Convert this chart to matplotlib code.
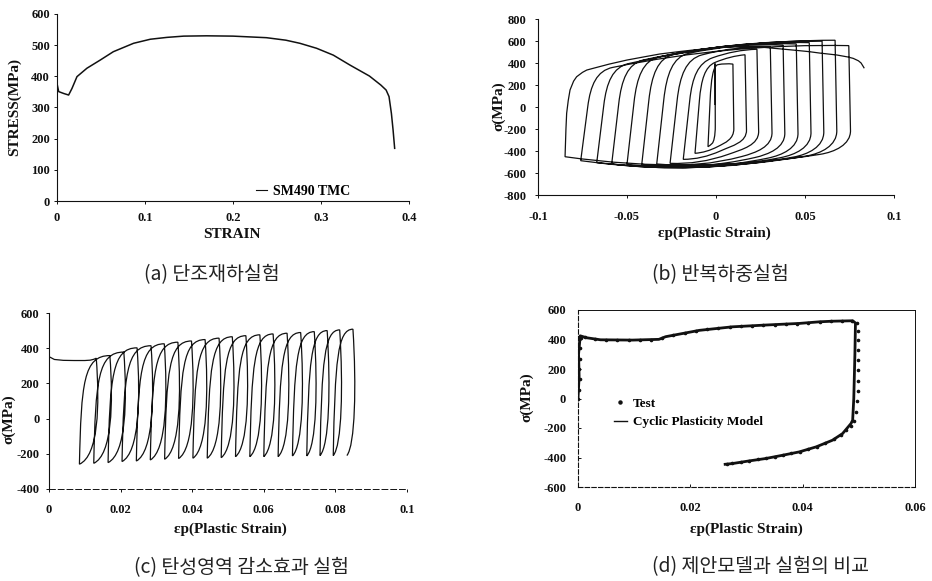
import numpy as np
import matplotlib
matplotlib.use('Agg')
import matplotlib.pyplot as plt
from matplotlib.path import Path
from matplotlib.patches import PathPatch
from matplotlib.lines import Line2D

SERIF = ['Liberation Serif', 'DejaVu Serif']
KR = ['Noto Sans CJK KR', 'DejaVu Sans']
INK = '#111111'

# ---------------- (a) monotonic test ----------------
a_strain = [0.0, 0.0, 0.0019, 0.0076, 0.0132, 0.0170, 0.0227, 0.034, 0.049, 0.064,
            0.087, 0.106, 0.125, 0.144, 0.170, 0.200, 0.238, 0.260, 0.276, 0.295,
            0.314, 0.333, 0.355, 0.368, 0.374, 0.3773, 0.380, 0.3819, 0.3837]
a_stress = [0, 377, 351, 345, 340, 361, 399, 426, 452, 479,
            506, 519, 525, 529, 530, 529, 524, 516, 506, 490,
            468, 436, 401, 372, 356, 335, 281, 228, 169]
a_xticks = [0, 0.1, 0.2, 0.3, 0.4]
a_xticklabels = ['0', '0.1', '0.2', '0.3', '0.4']
a_yticks = [0, 100, 200, 300, 400, 500, 600]
a_legend = 'SM490 TMC'

# ---------------- (b) cyclic test ----------------
b_start = (-0.0005, 18)
b_right_strain = [-0.0005, 0.0095, 0.0163, 0.0230, 0.0305, 0.0377, 0.0451, 0.0524, 0.0596, 0.0669, 0.0746]
b_right_stress = [395, 390, 475, 525, 548, 562, 573, 585, 598, 607, 558]
b_left_strain = [-0.0045, -0.0118, -0.0184, -0.0258, -0.0333, -0.0417, -0.0500, -0.0586, -0.0670, -0.0760, -0.0848]
b_left_stress = [-361, -421, -476, -512, -518, -521, -521, -518, -506, -488, -452]
b_top_corner = [385, 405, 448, 474, 488, 478, 455, 428, 395, 360]
b_bot_corner = [-330, -360, -400, -430, -450, -460, -465, -460, -455, -445, -430]
b_final_strain = [-0.0848, -0.0843, -0.0839, -0.0830, -0.0820, -0.0800, -0.0783, -0.0750, -0.0726,
                  -0.0689, -0.060, -0.050, -0.040, -0.0315, -0.020, -0.0128, 0.0, 0.006, 0.015,
                  0.025, 0.035, 0.045, 0.0524, 0.0584, 0.0678, 0.0740, 0.0771, 0.0800, 0.0815,
                  0.0828, 0.0833]
b_final_stress = [-452, -200, -57, 60, 155, 235, 275, 315, 336,
                  352, 390, 427, 457, 482, 505, 518, 538, 545, 548,
                  545, 530, 515, 503, 490, 473, 455, 442, 420, 400,
                  366, 352]
b_xticks = [-0.1, -0.05, 0, 0.05, 0.1]
b_xticklabels = ['-0.1', '-0.05', '0', '0.05', '0.1']
b_yticks = [-800, -600, -400, -200, 0, 200, 400, 600, 800]

# ---------------- (c) elastic region reduction test ----------------
c_init_strain = [0.0, 0.0, 0.0015, 0.004, 0.007, 0.010, 0.0115, 0.0125]
c_init_stress = [0, 352, 336, 331, 330, 330, 332, 337]
c_peak_strain = [0.0132, 0.0170, 0.0209, 0.0246, 0.0285, 0.0322, 0.0360, 0.0398, 0.0436, 0.0475,
                 0.0512, 0.0550, 0.0589, 0.0626, 0.0665, 0.0703, 0.0741, 0.0777, 0.0812, 0.0849]
c_peak_stress = [343, 358, 378, 402, 414, 425, 434, 441, 449, 457,
                 465, 471, 476, 481, 485, 489, 494, 500, 504, 508]
c_valley_strain = [0.0085, 0.0125, 0.0165, 0.0204, 0.0244, 0.0283, 0.0323, 0.0362, 0.0402, 0.0442,
                   0.0481, 0.0521, 0.0561, 0.0600, 0.0640, 0.0680, 0.0720, 0.0757, 0.0794, 0.0832]
c_valley_stress = [-259, -254, -250, -244, -241, -235, -231, -227, -225, -225,
                   -222, -216, -216, -216, -216, -212, -212, -210, -210, -210]
c_xticks = [0, 0.02, 0.04, 0.06, 0.08, 0.1]
c_xticklabels = ['0', '0.02', '0.04', '0.06', '0.08', '0.1']
c_yticks = [-400, -200, 0, 200, 400, 600]

# ---------------- (d) model vs test ----------------
d_model_strain = [0.0, 0.0002, 0.0001, 0.0004, 0.0015, 0.004, 0.0097, 0.0144, 0.0156, 0.0216,
                  0.0275, 0.0334, 0.0394, 0.0430, 0.0453, 0.0489, 0.0494, 0.0493, 0.0491, 0.0489,
                  0.0486, 0.0471, 0.0453, 0.0424, 0.0394, 0.0364, 0.0334, 0.0305, 0.0275, 0.0262]
d_model_stress = [0, 150, 300, 425, 412, 398, 396, 401, 419, 462,
                  486, 498, 509, 520, 524, 527, 512, 300, 0, -147,
                  -170, -238, -283, -328, -362, -385, -407, -423, -441, -446]
d_test_strain = [0.0000, 0.0001, 0.0003, 0.0002, 0.0004, 0.0003, 0.0005, 0.0012, 0.003, 0.005,
                 0.007, 0.009, 0.011, 0.013, 0.015, 0.017, 0.019, 0.021, 0.023, 0.025,
                 0.027, 0.029, 0.031, 0.033, 0.035, 0.037, 0.039, 0.041, 0.043, 0.045,
                 0.047, 0.0488, 0.0496, 0.0498, 0.0499, 0.0499, 0.0499, 0.0499, 0.0499, 0.0498,
                 0.0497, 0.0495, 0.0492, 0.0486, 0.0478, 0.0468, 0.0455, 0.0440, 0.0425, 0.0410,
                 0.0395, 0.0380, 0.0365, 0.0350, 0.0335, 0.0320, 0.0305, 0.0290, 0.0275, 0.0265]
d_test_stress = [-5, 60, 130, 200, 270, 340, 410, 418, 405, 398,
                 397, 396, 398, 400, 410, 428, 445, 458, 468, 476,
                 483, 489, 493, 497, 501, 505, 508, 513, 519, 523,
                 526, 527, 515, 460, 400, 330, 260, 190, 120, 50,
                 -20, -90, -150, -185, -215, -245, -275, -305, -328, -345,
                 -360, -372, -384, -394, -404, -413, -422, -431, -440, -445]
d_xticks = [0, 0.02, 0.04, 0.06]
d_xticklabels = ['0', '0.02', '0.04', '0.06']
d_yticks = [-600, -400, -200, 0, 200, 400, 600]
d_labels = ['Test', 'Cyclic Plasticity Model']

captions = ['(a) 단조재하실험', '(b) 반복하중실험', '(c) 탄성영역 감소효과 실험', '(d) 제안모델과 실험의 비교']

MOVETO, LINETO, CURVE3, CURVE4 = Path.MOVETO, Path.LINETO, Path.CURVE3, Path.CURVE4


def add_reload(verts, codes, x0, y0, x1, y1, yt):
    W = x1 - x0
    cw = min(0.018, 0.4 * W)
    lean = 0.22 * cw
    kx, ky = x0 + lean, yt - 0.42 * (yt - y0)
    f = 0.55 * (yt - ky) / (ky - y0)
    c1 = (kx + lean * f, ky + (ky - y0) * f)
    px, py = x0 + cw, yt
    cx, cy = 0.5 * (px + x1), 0.5 * (py + y1) + 800 * W
    s = 0.5 * cw / (cx - px)
    c2 = (px - 0.5 * cw, py - (cy - py) * s)
    verts += [(kx, ky), c1, c2, (px, py), (cx, cy), (x1, y1)]
    codes += [LINETO, CURVE4, CURVE4, CURVE4, CURVE3, CURVE3]


def add_unload(verts, codes, x0, y0, x1, y1, yb):
    W = x0 - x1
    cw = min(0.016, 0.4 * W)
    lean = 0.06 * cw
    kx, ky = x0 + lean, yb + 0.22 * (y0 - yb)
    f = 0.6 * (ky - yb) / (y0 - ky)
    c1 = (kx + lean * f, ky - (y0 - ky) * f)
    px, py = x0 - cw, yb
    cx, cy = 0.5 * (px + x1), 0.5 * (py + y1) - 1100 * W
    s = 0.5 * cw / (px - cx)
    c2 = (px + 0.5 * cw, py + (py - cy) * s)
    verts += [(kx, ky), c1, c2, (px, py), (cx, cy), (x1, y1)]
    codes += [LINETO, CURVE4, CURVE4, CURVE4, CURVE3, CURVE3]


def style_axes(ax, xt, xtl, yt, xpad, ypad, direction='out'):
    ax.set_xticks(xt)
    ax.set_xticklabels(xtl)
    ax.set_yticks(yt)
    ax.set_yticklabels([str(v) for v in yt])
    ax.tick_params(direction=direction, length=2.5, width=0.7, colors=INK)
    ax.tick_params(axis='x', pad=xpad)
    ax.tick_params(axis='y', pad=ypad)
    for lab in ax.get_xticklabels() + ax.get_yticklabels():
        lab.set_fontfamily(SERIF)
        lab.set_fontweight('bold')
        lab.set_fontsize(9)
    for sp in ax.spines.values():
        sp.set_linewidth(0.8)
        sp.set_color(INK)


fig = plt.figure(figsize=(9.32, 5.81), dpi=100)
W_, H_ = 932.0, 581.0


def axes_px(left, top, right, bottom):
    return fig.add_axes([left / W_, 1 - bottom / H_, (right - left) / W_, (bottom - top) / H_])


def ftext(x, y, s, **kw):
    fig.text(x / W_, 1 - y / H_, s, ha='center', va='center', **kw)


lab_kw = dict(fontfamily=SERIF, fontweight='bold', color=INK)

# ---- (a)
axa = axes_px(57, 14, 409, 201)
axa.plot(a_strain, a_stress, color=INK, lw=1.1, label=a_legend)
axa.set_xlim(0, 0.4)
axa.set_ylim(0, 600)
axa.spines['top'].set_visible(False)
axa.spines['right'].set_visible(False)
style_axes(axa, a_xticks, a_xticklabels, a_yticks, 5.5, 2.5)
leg = axa.legend(loc='center left', bbox_to_anchor=(0.565, 0.053), frameon=False,
                 borderaxespad=0, borderpad=0, handlelength=0.8, handletextpad=0.45,
                 prop=dict(family=SERIF, weight='bold', size=10))
for h in leg.legend_handles:
    h.set_linewidth(0.8)
ftext(14, 107, 'STRESS(MPa)', rotation=90, fontsize=11, **lab_kw)
ftext(232, 235, 'STRAIN', fontsize=11, **lab_kw)

# ---- (b)
axb = axes_px(538, 19, 894, 195)
verts = [b_start, (b_right_strain[0], b_right_stress[0])]
codes = [MOVETO, LINETO]
for k in range(len(b_right_strain)):
    add_unload(verts, codes, b_right_strain[k], b_right_stress[k],
               b_left_strain[k], b_left_stress[k], b_bot_corner[k])
    if k + 1 < len(b_right_strain):
        add_reload(verts, codes, b_left_strain[k], b_left_stress[k],
                   b_right_strain[k + 1], b_right_stress[k + 1], b_top_corner[k])
for x, y in zip(b_final_strain[1:], b_final_stress[1:]):
    verts.append((x, y))
    codes.append(LINETO)
axb.add_patch(PathPatch(Path(verts, codes), fill=False, edgecolor=INK, lw=0.9))
axb.set_xlim(-0.1, 0.1)
axb.set_ylim(-800, 800)
axb.spines['top'].set_visible(False)
axb.spines['right'].set_visible(False)
style_axes(axb, b_xticks, b_xticklabels, b_yticks, 9, 6)
ftext(499, 106, 'σ(MPa)', rotation=90, fontsize=11, **lab_kw)
ftext(714, 233, 'εp(Plastic Strain)', fontsize=11, **lab_kw)

# ---- (c)
axc = axes_px(49, 313, 407, 489)
verts = list(zip(c_init_strain, c_init_stress))
codes = [MOVETO] + [LINETO] * (len(verts) - 1)
verts.append((c_peak_strain[0], c_peak_stress[0]))
codes.append(LINETO)
n = len(c_peak_strain)
for i in range(n):
    xp, sp = c_peak_strain[i], c_peak_stress[i]
    xv, sv = c_valley_strain[i], c_valley_stress[i]
    Hh = sp - sv
    verts += [(xp + 0.0010, sp - 0.45 * Hh), (xp + 0.0006, sv + 0.08 * Hh), (xv, sv)]
    codes += [CURVE4] * 3
    if i + 1 < n:
        xn, sn = c_peak_strain[i + 1], c_peak_stress[i + 1]
        H2 = sn - sv
        verts += [(xv + 0.0005, sv + 0.75 * H2), (xv + 0.0012, sn), (xn, sn)]
        codes += [CURVE4] * 3
axc.add_patch(PathPatch(Path(verts, codes), fill=False, edgecolor=INK, lw=0.9))
axc.set_xlim(0, 0.1)
axc.set_ylim(-400, 600)
axc.spines['top'].set_visible(False)
axc.spines['right'].set_visible(False)
style_axes(axc, c_xticks, c_xticklabels, c_yticks, 8, 4.5)
axc.spines['bottom'].set_linestyle((0, (6, 3)))
axc.spines['bottom'].set_linewidth(0.7)
ftext(9, 419, 'σ(MPa)', rotation=90, fontsize=11, **lab_kw)
ftext(230, 529, 'εp(Plastic Strain)', fontsize=11, **lab_kw)

# ---- (d)
axd = axes_px(578, 310, 915, 487)
model_line, = axd.plot(d_model_strain, d_model_stress, color=INK, lw=2.0)
test_pts, = axd.plot(d_test_strain, d_test_stress, ls='none', marker='o', ms=1.6,
                     color=INK)
axd.set_xlim(0, 0.06)
axd.set_ylim(-600, 600)
style_axes(axd, d_xticks, d_xticklabels, d_yticks, 11, 8.5, direction='in')
axd.spines['left'].set_linestyle((0, (4, 2)))
axd.spines['bottom'].set_linestyle((0, (4, 2)))
for nm in ('top', 'right'):
    axd.spines[nm].set_linewidth(0.7)
h_test = Line2D([], [], ls='none', marker='o', ms=2.2, color=INK)
h_model = Line2D([], [], color=INK, lw=1.0)
axd.legend([h_test, h_model], d_labels, loc='center left', bbox_to_anchor=(0.106, 0.418),
           frameon=False, borderaxespad=0, borderpad=0, handlelength=1.0,
           handletextpad=0.45, labelspacing=0.45, numpoints=1,
           prop=dict(family=SERIF, weight='bold', size=9.5))
ftext(527, 397, 'σ(MPa)', rotation=90, fontsize=11, **lab_kw)
ftext(746, 529, 'εp(Plastic Strain)', fontsize=11, **lab_kw)

# ---- captions
cap_pos = [(212, 275), (720, 275), (241, 568), (760, 567)]
for (cx_, cy_), cap in zip(cap_pos, captions):
    ftext(cx_, cy_, cap, fontsize=14, fontfamily=KR, color='#222222')

fig.savefig('out.png', dpi=100)
